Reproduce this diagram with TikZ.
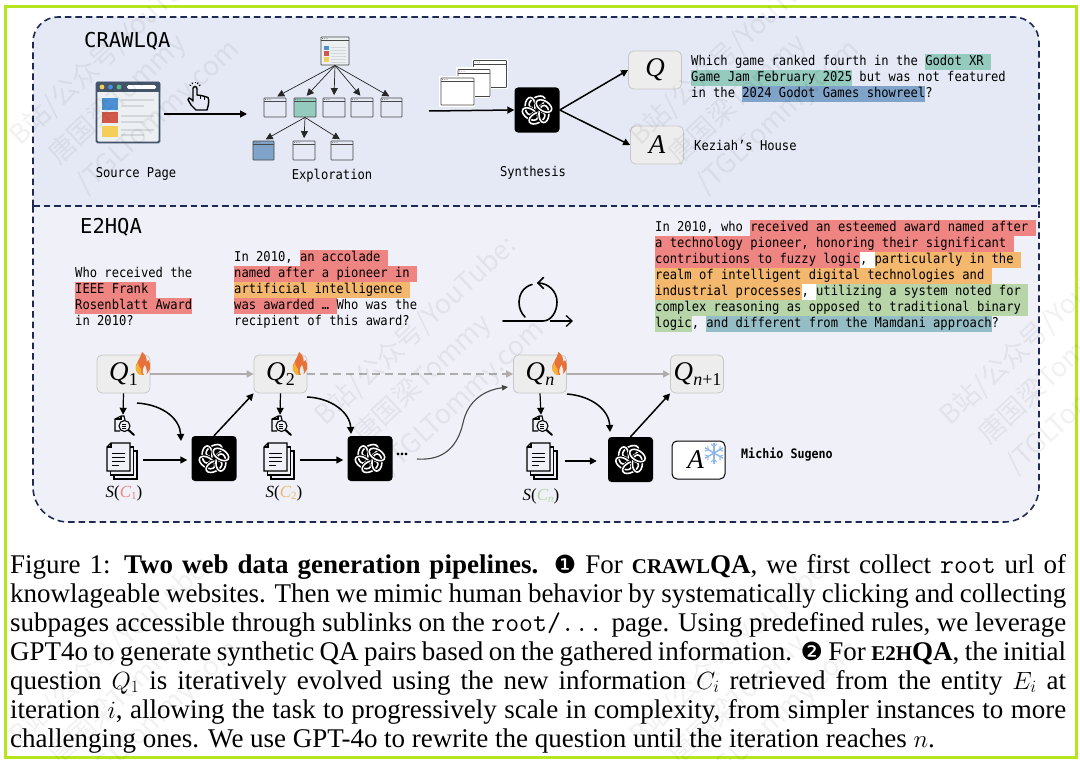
\documentclass[tikz,border=0pt]{standalone}
\usepackage{fontspec}
\usetikzlibrary{arrows.meta,calc}
\setmainfont{Liberation Serif}
\newfontfamily\monotxt[FakeStretch=0.9]{DejaVu Sans Mono}
\newfontfamily\headfont{DejaVu Sans Mono}
\newfontfamily\dingfont{DejaVu Sans}
\newfontfamily\cjkfont{Noto Sans CJK SC}
\definecolor{limeb}{HTML}{B5E61D}
\definecolor{navyd}{HTML}{1F2A52}
\definecolor{crawlbg}{HTML}{E4E9F5}
\definecolor{e2hbg}{HTML}{F0F0F8}
\definecolor{hlteal}{HTML}{94CBBE}
\definecolor{hlblue}{HTML}{7FA3C9}
\definecolor{hlred}{HTML}{EE8582}
\definecolor{hlorange}{HTML}{F3B76E}
\definecolor{hlgreen}{HTML}{B7D5A9}
\definecolor{hlsteel}{HTML}{95BDC6}
\definecolor{boxgray}{HTML}{EDEDED}
\definecolor{boxline}{HTML}{C8C8C8}
\definecolor{wintitle}{HTML}{44546A}
\definecolor{winpale}{HTML}{EDF0F2}
\definecolor{winline}{HTML}{D3D7DB}
\definecolor{arrowgray}{HTML}{B0ACAC}
\definecolor{flamered}{HTML}{E8713A}
\definecolor{flameyel}{HTML}{F5B335}
\definecolor{snow}{HTML}{8DB8E8}
\definecolor{srcblue}{HTML}{4A90D2}
\definecolor{srcred}{HTML}{D2594A}
\definecolor{srcyel}{HTML}{F5CE5A}
\definecolor{srcgreen}{HTML}{58B98A}
\newcommand\lstrut{\rule[-4.5pt]{0pt}{16pt}}
\newcommand\hlt[2]{{\setlength\fboxsep{0pt}\colorbox{#1}{\lstrut #2}}}
\newcommand\smallcapsbold[2]{{\bfseries\fontsize{21}{21}\selectfont #1}{\bfseries #2}}
\newcommand\capline[2]{\node[capstyle] (#1) at (10,\capy) {\hbox to 1056pt{#2}};}
\newcommand\bigletter[1]{\fontsize{27}{27}\selectfont\itshape #1}
\newcommand\qsub[1]{{\fontsize{27}{27}\selectfont\itshape Q}\kern0.3pt\raisebox{-5pt}{\fontsize{18}{18}\selectfont #1}}
\newcommand\slab[2]{\fontsize{17}{17}\selectfont{\itshape S}(\textcolor{#1}{{\itshape C}\raisebox{-2.5pt}{\fontsize{11}{11}\selectfont #2}})}
\def\capy{0}
\tikzset{
  x=1pt,y=-1pt,
  >={Triangle[length=7pt,width=7pt]},
  panelline/.style={draw=navyd,line width=1.6pt,dash pattern=on 6.5pt off 4pt},
  winbox/.style={draw=black!72,line width=0.8pt,inner sep=0pt,rounded corners=0.6pt},
  qbox/.style={draw=boxline,fill=boxgray,line width=0.8pt,rounded corners=5pt,inner sep=0pt,minimum width=53pt,minimum height=38pt},
  abox/.style={draw=black,fill=white,line width=1pt,rounded corners=5pt,inner sep=0pt,minimum width=53pt,minimum height=38pt},
  gptbox/.style={fill=black,rounded corners=3.5pt,inner sep=0pt,minimum width=45pt,minimum height=45pt},
  lbl/.style={font=\monotxt\fontsize{13.5}{16}\selectfont,inner sep=0pt},
  para/.style={lbl,anchor=north west,align=left},
  headl/.style={font=\headfont\fontsize{20.5}{24}\selectfont,inner sep=0pt,anchor=west},
  capstyle/.style={anchor=base west,inner sep=0pt,font=\fontsize{27}{29}\selectfont},
  treearrow/.style={->,>={Triangle[length=7pt,width=7pt]},line width=0.7pt,shorten >=1pt,draw=black!85},
  flowarrow/.style={->,line width=1.5pt},
  grayarrow/.style={->,draw=arrowgray,line width=1.5pt},
  anchorbox/.style={inner sep=0pt,minimum size=20pt},
  wmark/.style={font=\cjkfont\fontsize{27}{40}\selectfont,rotate=43,anchor=north west,align=left,text=black,text opacity=0.055,inner sep=0pt},
}
\newcommand\webwin[6]{%
  \node[winbox,fill=#6,minimum width=#4pt,minimum height=#5pt] (#1) at (#2,#3) {};
  \draw[black!72,line width=0.8pt] ($(#1.north west)+(0,4)$) -- ($(#1.north east)+(0,4)$);
  \fill[black!60] ($(#1.north west)+(2,2)$) circle (0.5) ++(2.2,0) circle (0.5) ++(2.2,0) circle (0.5);
}
\newcommand\gptlogo[3]{%
  \node[gptbox] (#1) at (#2,#3) {};
  \begin{scope}[shift={(#2,#3)}]
    \foreach \a in {0,60,...,300} {
      \draw[black,line width=3.4pt,rotate=\a,shift={(0,-8)},rotate=28] (0,0) ellipse (8.6 and 5);
      \draw[white,line width=1.6pt,rotate=\a,shift={(0,-8)},rotate=28] (0,0) ellipse (8.6 and 5);
    }
  \end{scope}
}
\newcommand\flame[2]{%
  \begin{scope}[shift={(#1,#2)}]
    \fill[flamered] (0,11) .. controls (-8,11) and (-9,2) .. (-5,-3) .. controls (-3,-6) and (-2,-9) .. (-1,-12) .. controls (3,-9) and (4,-5) .. (3.5,-2) .. controls (4.5,-2.5) and (5,-3.5) .. (5.5,-4) .. controls (9,1) and (8,10) .. (0,11) -- cycle;
    \fill[flameyel] (-1,11) .. controls (-8,11) and (-8.5,3) .. (-5,-2) .. controls (-5,2) and (-3,3) .. (-2,5) .. controls (-2,7) and (-2,9) .. (-1,11) -- cycle;
    \fill[boxgray] (1,11) .. controls (-1.5,8) and (0,4) .. (2,1) .. controls (3,4) and (5,7) .. (3,11) -- cycle;
  \end{scope}
}
\newcommand\lensicon[3]{%
  \node[anchorbox] (#1) at (#2,#3) {};
  \begin{scope}[shift={(#2,#3)},line width=1.1pt]
    \draw (-3,6) -- (-8,6) -- (-8,-6) -- (-2,-9) -- (1,-9) -- (2,-5);
    \draw (-8,-6) -- (-2,-6) -- (-2,-9);
    \draw[fill=e2hbg] (1.5,1) circle (5.5);
    \draw[line width=2pt,line cap=round] (5.5,5) -- (11,10);
    \draw[line width=0.7pt] (-1,-1) -- (3,-1) (-1,1) -- (3,1) (-1,3) -- (3,3);
  \end{scope}
}
\newcommand\docstack[3]{%
  \node[inner sep=0pt,minimum width=30pt,minimum height=36pt] (#1) at (#2,#3) {};
  \begin{scope}[shift={(#2,#3)},line width=1.1pt]
    \draw[fill=e2hbg] (-8,-10) rectangle (15,18);
    \draw[fill=e2hbg] (-11.5,-14) rectangle (11.5,14);
    \draw[fill=e2hbg] (-11,-18) -- (-15,-14) -- (-15,10) -- (8,10) -- (8,-18) -- cycle;
    \draw (-15,-14) -- (-11,-14) -- (-11,-18);
    \foreach \yy/\xx in {-8/3,-4/3,0/3,4/-3} \draw[line width=1pt] (-10,\yy) -- (\xx,\yy);
  \end{scope}
}
\begin{document}
\begin{tikzpicture}
\useasboundingbox (0,0) rectangle (1080,760);
\fill[white] (0,0) rectangle (1080,760);
\draw[limeb,line width=3pt] (5.5,6.5) rectangle (1076,757);

% panels
\fill[e2hbg] (33,206) [rounded corners=35pt] -- (33,522) -- (1039,522) [sharp corners] -- (1039,206) -- cycle;
\fill[crawlbg] (33,206) [rounded corners=25pt] -- (33,17) -- (1039,17) [sharp corners] -- (1039,206) -- cycle;
\draw[panelline] (33,206) [rounded corners=25pt] -- (33,17) -- (1039,17) [sharp corners] -- (1039,206);
\draw[panelline] (33,206) -- (1039,206);
\draw[panelline] (33,206) [rounded corners=35pt] -- (33,522) -- (1039,522) [sharp corners] -- (1039,206);

\node[headl] (crawlhead) at (84,41) {CRAWLQA};
\node[headl] (e2hhead) at (80,227) {E2HQA};

% source page
\node[draw=wintitle,line width=1.8pt,fill=winpale,rounded corners=1.5pt,inner sep=0pt,minimum width=63pt,minimum height=60pt] (source) at (128,112.5) {};
\fill[wintitle,rounded corners=1pt] (96,82) rectangle (160,92);
\fill[srcyel] (102,87) circle (2.4);
\fill[srcblue] (110.5,87) circle (2.4);
\fill[srcgreen] (119,87) circle (2.4);
\fill[white,rounded corners=1.5pt] (127,85.2) rectangle (156,89);
\fill[srcblue] (102,98) rectangle (118,110);
\fill[srcred] (102,112) rectangle (118,123);
\fill[srcyel] (102,126) rectangle (118,137);
\foreach \yy/\xe in {100/154,106/144,116/154,122/144,130/154,135/144}
  \draw[winline,line width=1.3pt] (121,\yy) -- (\xe,\yy);
\node[lbl] (sourcelbl) at (136,173.5) {Source Page};

% click hand
\draw[line width=1.4pt,line join=round,fill=crawlbg] (196,110) -- (191,105) -- (188,99.5) .. controls (188,97.5) and (190,97.5) .. (191,99) -- (193,101) -- (193,88.5) .. controls (193,86) and (197,86) .. (197,88.5) -- (197,95) -- (201,95.5) -- (205,96.5) -- (208,97.5) .. controls (209,100) and (209,104) .. (207,110) -- cycle;
\draw[line width=0.8pt] (200.5,95.5) -- (200.5,99) (204.5,96.5) -- (204.5,100);
\foreach \a in {-150,-120,-90,-60,-30}
  \draw[line width=1pt] ($(195,88)+(\a:4.5)$) -- ($(195,88)+(\a:6.2)$);

% exploration tree
\webwin{root}{335}{51}{28}{28}{winpale}
\fill[srcblue] (323.5,46) rectangle (329,50.5);
\fill[srcred] (323.5,51.5) rectangle (329,56);
\fill[srcyel] (323.5,57) rectangle (329,62);
\foreach \yy in {47,50,53,56,59,62} \draw[winline,line width=0.6pt] (331,\yy) -- (346,\yy);
\webwin{c1}{275}{107.5}{22}{19}{crawlbg}
\webwin{c2}{305}{107.5}{22}{19}{hlteal}
\webwin{c3}{334}{107.5}{22}{19}{crawlbg}
\webwin{c4}{362}{107.5}{22}{19}{crawlbg}
\webwin{c5}{391.5}{107.5}{21}{19}{crawlbg}
\webwin{g1}{263.5}{150.5}{21}{19}{hlblue}
\webwin{g2}{304}{150.5}{22}{19}{crawlbg}
\webwin{g3}{342}{150.5}{22}{19}{crawlbg}
\foreach \t in {c1,c2,c3,c4,c5} \draw[treearrow,shorten >=2.5pt] (root.south) -- (\t.north);
\foreach \t in {g1,g2,g3} \draw[treearrow,shorten >=2.5pt] (c2.south) -- (\t.north);
\node[lbl] (explorelbl) at (332,176) {Exploration};
\coordinate (srcout) at (164,114);
\coordinate (treein) at (247,114);
\draw[flowarrow] (srcout) -- (treein);

% synthesis
\fill[white] (472,59) rectangle (508,89);
\webwin{w3}{490}{74}{33}{27}{white}
\fill[white] (456,67) rectangle (491,98);
\webwin{w2}{474}{83}{32}{27}{white}
\fill[white] (439,76) rectangle (475,107);
\webwin{w1}{457.5}{91.5}{33}{27}{white}
\gptlogo{gptA}{537}{110}
\coordinate (synin) at (429,111);
\draw[flowarrow] (synin) -- (gptA.west);
\node[qbox] (qbox) at (655,70) {\bigletter{Q}};
\node[qbox] (abox) at (657,145) {\bigletter{A}};
\draw[flowarrow] (gptA.east) -- (qbox.west);
\draw[flowarrow] (gptA.east) -- (abox.west);
\node[lbl] (synlbl) at (533,173) {Synthesis};
\node[para] (qtext) at (691,54) {\lstrut Which game ranked fourth in the \hlt{hlteal}{Godot XR~}\\
\hlt{hlteal}{Game Jam February 2025}\lstrut~but was not featured\\
\lstrut in the \hlt{hlblue}{2024 Godot Games showreel}?};
\node[lbl,anchor=west] (atext) at (694,145) {Keziah’s House};

% e2hqa texts
\node[para] (t1) at (75,266) {\lstrut Who received the\\
\hlt{hlred}{IEEE Frank~}\\
\hlt{hlred}{Rosenblatt Award}\\
\lstrut in 2010?};
\node[para] (t2) at (234,250) {\lstrut In 2010, \hlt{hlred}{an accolade~}\\
\hlt{hlred}{named after a pioneer in~}\\
\hlt{hlorange}{artificial intelligence~}\\
\hlt{hlred}{was awarded …~}\lstrut Who was the\\
\lstrut recipient of this award?};
\node[para] (t3) at (655,220) {\lstrut In 2010, who \hlt{hlred}{received an esteemed award named after~}\\
\hlt{hlred}{a technology pioneer, honoring their significant~}\\
\hlt{hlred}{contributions to fuzzy logic}\hlt{white}{,~}\hlt{hlorange}{particularly in the~}\\
\hlt{hlorange}{realm of intelligent digital technologies and~}\\
\hlt{hlorange}{industrial processes}\hlt{white}{,~}\hlt{hlgreen}{utilizing a system noted for~}\\
\hlt{hlgreen}{complex reasoning as opposed to traditional binary~}\\
\hlt{hlgreen}{logic}\lstrut,~\hlt{hlsteel}{and different from the Mamdani approach}?};

% loop icon
\draw[line width=1.6pt,line cap=round] (503,321) -- (543,321) .. controls (551,321) and (557,312) .. (557,302) .. controls (557,291) and (548,283) .. (538,283);
\draw[line width=1.6pt,line cap=round] (543.5,277.5) -- (538,283) -- (543.5,288.5);
\draw[line width=1.6pt,line cap=round] (532,284.5) .. controls (523,287) and (519,295) .. (519,302) .. controls (519,308) and (521,313) .. (525,317);
\coordinate (loopa) at (550,321);
\coordinate (loopb) at (573,321);
\draw[line width=1.3pt,-{Straight Barb[length=6pt,width=11pt]}] (loopa) -- (loopb);

% question chain
\node[qbox] (q1) at (123.5,374) {\qsub{1}};
\node[qbox] (q2) at (280.5,374) {\qsub{2}};
\node[qbox] (qn) at (540,374) {\qsub{\itshape n}};
\node[qbox] (qm) at (697,374) {\hspace*{1pt}\qsub{{\itshape n}+1}};
\flame{143}{364}
\flame{300}{364}
\flame{559.5}{364}
\draw[grayarrow] (q1.east) -- (q2.west);
\draw[grayarrow,dash pattern=on 8pt off 5pt] (q2.east) -- (qn.west);
\draw[grayarrow] (qn.east) -- (qm.west);

\lensicon{lens1}{123}{425}
\lensicon{lens2}{280}{425}
\lensicon{lens3}{541}{425}
\docstack{doc1}{122}{461}
\docstack{doc2}{279}{461}
\docstack{doc3}{542}{461}
\node[inner sep=0pt] (s1) at (124,493) {\slab{hlred}{1}};
\node[inner sep=0pt] (s2) at (284,493) {\slab{hlorange}{2}};
\node[inner sep=0pt] (s3) at (541,496) {\slab{hlgreen}{\itshape n}};
\gptlogo{gpt1}{214}{458.5}
\gptlogo{gpt2}{370}{458.5}
\gptlogo{gpt3}{630.5}{459.5}

\draw[flowarrow,line width=1.2pt] (q1.south) -- (lens1.north);
\draw[flowarrow,line width=1.2pt] (q2.south) -- (lens2.north);
\draw[flowarrow,line width=1.2pt] (qn.south) -- (lens3.north);
\draw[flowarrow] ($(doc1.east)+(6,-1)$) -- ($(gpt1.west)+(-4,1.5)$);
\draw[flowarrow] ($(doc2.east)+(6,-1)$) -- ($(gpt2.west)+(-4,1.5)$);
\draw[flowarrow] ($(doc3.east)+(8,0)$) -- ($(gpt3.west)+(-11,1.5)$);
\coordinate (bend1a) at (137,403);
\coordinate (bend1b) at (181,441);
\draw[flowarrow] (bend1a) .. controls (165,405) and (180,420) .. (bend1b);
\coordinate (bend2a) at (307,397);
\coordinate (bend2b) at (351,434);
\draw[flowarrow] (bend2a) .. controls (332,398) and (350,413) .. (bend2b);
\coordinate (bend3a) at (567,394);
\coordinate (bend3b) at (610,432);
\draw[flowarrow] (bend3a) .. controls (592,396) and (609,410) .. (bend3b);
\draw[flowarrow] (gpt1.north) -- (q2.south west);
\draw[flowarrow] (gpt3.north) -- (qm.south west);
\node[font=\bfseries\fontsize{16}{16}\selectfont,inner sep=0pt] (dots) at (402,454) {...};
\coordinate (sstart) at (417,459);
\coordinate (send) at (508,387);
\draw[->,draw=black!72,line width=1.1pt,>={Triangle[length=6pt,width=5.5pt]}] (sstart) .. controls (445,461) and (458,445) .. (463,423) .. controls (468,400) and (485,390) .. (send);

\node[abox] (ans) at (698.5,460) {\hspace*{-6pt}\bigletter{A}};
\begin{scope}[shift={(714,453)},snow,line width=1.4pt]
  \foreach \a in {0,60,...,300} {
    \draw[rotate=\a] (0,0) -- (0,-10.5);
    \draw[rotate=\a,line width=1pt] (-3,-9) -- (0,-6.5) -- (3,-9);
  }
\end{scope}
\node[lbl,anchor=west,font=\monotxt\bfseries\fontsize{13}{16}\selectfont] (anstext) at (741,455) {Michio Sugeno};

% caption
\def\capy{573}\capline{cap1}{Figure 1: \textbf{Two web data generation pipelines.} {\dingfont\fontsize{25}{25}\selectfont ❶} For \smallcapsbold{CRAWL}{QA}, we first collect \texttt{root} url of}
\def\capy{602}\capline{cap2}{knowlageable websites. Then we mimic human behavior by systematically clicking and collecting}
\def\capy{631}\capline{cap3}{subpages accessible through sublinks on the \texttt{root/...} page. Using predefined rules, we leverage}
\def\capy{660}\capline{cap4}{GPT4o to generate synthetic QA pairs based on the gathered information. {\dingfont\fontsize{25}{25}\selectfont ❷} For \smallcapsbold{E2H}{QA}, the initial}
\def\capy{689}\capline{cap5}{question $Q_1$ is iteratively evolved using the new information $C_i$ retrieved from the entity $E_i$ at}
\def\capy{718}\capline{cap6}{iteration $i$, allowing the task to progressively scale in complexity, from simpler instances to more}
\node[capstyle] (cap7) at (10,747) {challenging ones. We use GPT-4o to rewrite the question until the iteration reaches $n$.};

% watermark
\foreach \wx/\wy/\wn in {5/130/a,310/410/b,625/130/c,935/410/d,5/730/e,625/730/f}
  \node[wmark] (wm\wn) at (\wx,\wy) {B站/公众号/YouTube:\\\hspace*{15pt}唐国梁Tommy\\\hspace*{15pt}/TGLTommy.com};
\end{tikzpicture}
\end{document}
